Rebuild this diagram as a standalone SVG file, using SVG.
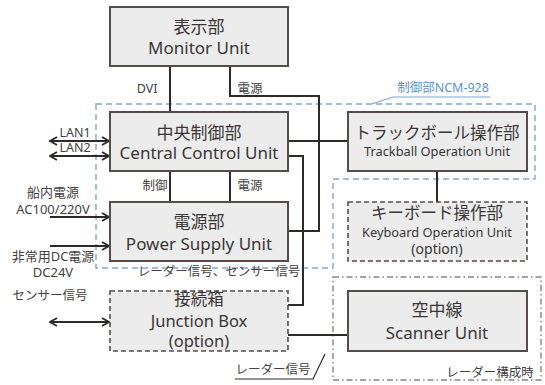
<svg xmlns="http://www.w3.org/2000/svg" width="545" height="385" viewBox="0 0 545 385">
<defs>
<style>
.box{fill:#ececec;stroke:#554d4b;stroke-width:2}
.dbox{fill:#ececec;stroke:#554d4b;stroke-width:1.6;stroke-dasharray:5,3}
.ln{fill:none;stroke:#2e2a29;stroke-width:2}
.t{font-family:"Noto Sans","Noto Sans CJK JP",sans-serif;fill:#3a3636;text-anchor:middle}
.big{font-size:17px}
.mid{font-size:14px}
.sm{font-size:12.8px}
.lbl{font-family:"Noto Sans","Noto Sans CJK JP",sans-serif;fill:#454141;font-size:12.5px;text-anchor:middle}
.lbl2{font-family:"Noto Sans","Noto Sans CJK JP",sans-serif;fill:#454141;font-size:13px;text-anchor:middle}
</style>
<marker id="ah" viewBox="0 0 10 10" refX="9" refY="5" markerWidth="10" markerHeight="10" markerUnits="userSpaceOnUse" orient="auto-start-reverse">
<path d="M2,1 L9,5 L2,9" fill="none" stroke="#2e2a29" stroke-width="1.8"/>
</marker>
</defs>
<rect width="545" height="385" fill="#ffffff"/>

<!-- regions -->
<g id="region-ncm">
<path d="M96,104 H535 V179 H333 V268 H96 Z" fill="none" stroke="#7fa8d8" stroke-width="1.4" stroke-dasharray="6,4"/>
<text x="443" y="92" font-family="'Noto Sans','Noto Sans CJK JP',sans-serif" font-size="12.5" fill="#5b93cf" text-anchor="middle">制御部NCM-928</text>
<path d="M490,97 H393 L372,104" fill="none" stroke="#7fa8d8" stroke-width="1.2"/>
</g>
<g id="region-radar">
<rect x="333" y="277" width="208" height="103" fill="none" stroke="#8a8482" stroke-width="1.4" stroke-dasharray="6,3,1.5,3"/>
<text x="490" y="377" class="lbl">レーダー構成時</text>
</g>

<!-- connectors -->
<g id="connectors">
<path class="ln" d="M170,66 V112"/>
<path class="ln" d="M230,66 V96 H319 V231 H288"/>
<path class="ln" d="M288,141 H348"/>
<path class="ln" d="M288,156 H303 V305 H288"/>
<path class="ln" d="M437,171 V202"/>
<path class="ln" d="M170,171 V202"/>
<path class="ln" d="M230,171 V202"/>
<path class="ln" d="M288,335 H348"/>
<path class="ln" d="M50,141 H109" marker-start="url(#ah)" marker-end="url(#ah)"/>
<path class="ln" d="M50,156 H109" marker-start="url(#ah)" marker-end="url(#ah)"/>
<path class="ln" d="M50,217 H109" marker-end="url(#ah)"/>
<path class="ln" d="M50,246 H109" marker-end="url(#ah)"/>
<path class="ln" d="M50,322 H109" marker-start="url(#ah)" marker-end="url(#ah)"/>
<path d="M235,379 H313 L325,354" fill="none" stroke="#2e2a29" stroke-width="1.2"/>
<text x="147" y="93" class="lbl">DVI</text>
<text x="250" y="93" class="lbl">電源</text>
<text x="155" y="190" class="lbl">制御</text>
<text x="250" y="190" class="lbl">電源</text>
<text x="75" y="137" class="lbl">LAN1</text>
<text x="75" y="152" class="lbl">LAN2</text>
<text x="53" y="197" class="lbl2">船内電源</text>
<text x="53" y="214" class="lbl2">AC100/220V</text>
<text x="53" y="261" class="lbl2">非常用DC電源</text>
<text x="53" y="277" class="lbl2">DC24V</text>
<text x="50" y="300" class="lbl">センサー信号</text>
<text x="219" y="276" class="lbl">レーダー信号、センサー信号</text>
<text x="273" y="374" class="lbl">レーダー信号</text>
</g>

<!-- nodes -->
<g id="monitor">
<rect class="box" x="110" y="7" width="178" height="59"/>
<text x="199" y="33" class="t big">表示部</text>
<text x="199" y="54" class="t big">Monitor Unit</text>
</g>
<g id="ccu">
<rect class="box" x="110" y="112" width="178" height="59"/>
<text x="199" y="139" class="t big">中央制御部</text>
<text x="199" y="159" class="t big">Central Control Unit</text>
</g>
<g id="trackball">
<rect class="box" x="348" y="112" width="179" height="59"/>
<text x="437" y="139" class="t" font-size="16.5">トラックボール操作部</text>
<text x="437" y="156" class="t sm">Trackball Operation Unit</text>
</g>
<g id="keyboard">
<rect class="dbox" x="348" y="202" width="179" height="59"/>
<text x="437" y="219" class="t" font-size="16.5">キーボード操作部</text>
<text x="437" y="237" class="t sm">Keyboard Operation Unit</text>
<text x="437" y="254" class="t mid">(option)</text>
</g>
<g id="psu">
<rect class="box" x="110" y="202" width="178" height="59"/>
<text x="199" y="228" class="t big">電源部</text>
<text x="199" y="250" class="t big">Power Supply Unit</text>
</g>
<g id="junction">
<rect class="dbox" x="110" y="291" width="178" height="60"/>
<text x="199" y="305" class="t" font-size="16.5">接続箱</text>
<text x="199" y="327" class="t" font-size="16.5">Junction Box</text>
<text x="199" y="347" class="t" font-size="16.5">(option)</text>
</g>
<g id="scanner">
<rect class="box" x="348" y="291" width="179" height="60"/>
<text x="437" y="316" class="t big">空中線</text>
<text x="437" y="339" class="t big">Scanner Unit</text>
</g>
</svg>
